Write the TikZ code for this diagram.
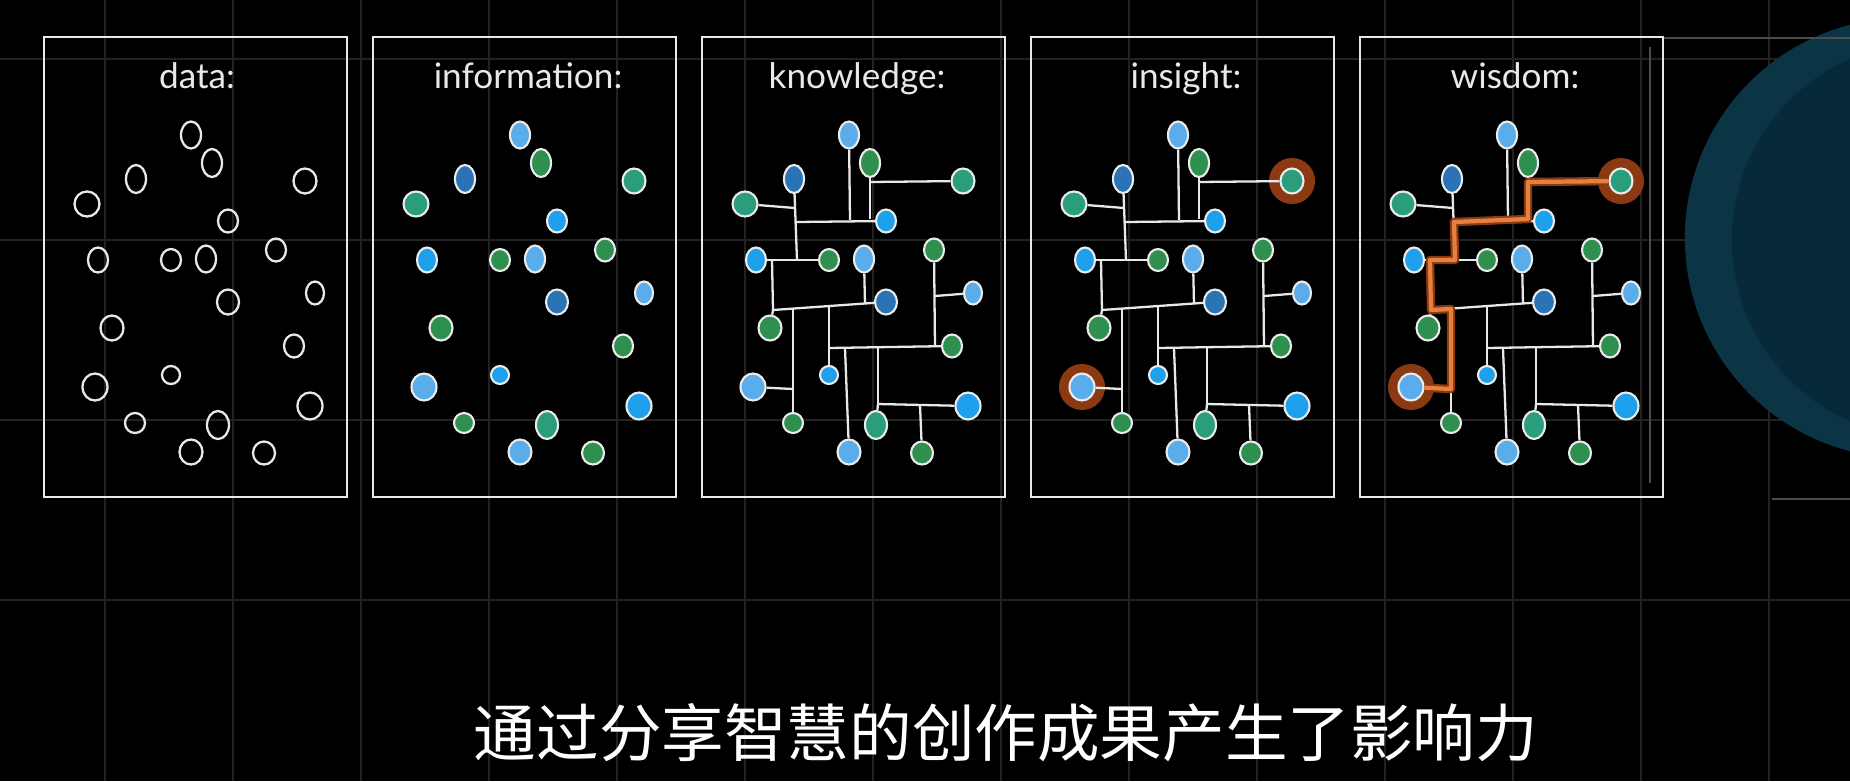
\documentclass[tikz,border=0pt]{standalone}
\usepackage{fontspec}
\newfontfamily\handfont{Lato}
\newfontfamily\cjkfont{Noto Sans CJK SC}
\usetikzlibrary{shapes.geometric,backgrounds}

\definecolor{dotlight}{HTML}{5AADEA}
\definecolor{dotbright}{HTML}{1FA0EC}
\definecolor{dotdeep}{HTML}{2A74B5}
\definecolor{dotgreen}{HTML}{2F8F4E}
\definecolor{dotteal}{HTML}{2A9D7C}
\definecolor{gridgray}{HTML}{222222}
\definecolor{chalk}{HTML}{E8E8E8}
\definecolor{rust}{HTML}{8A3912}
\definecolor{amber}{HTML}{E6803E}
\definecolor{discouter}{HTML}{0B3545}
\definecolor{discinner}{HTML}{072A3A}

% dot layout, relative to the top left corner of a panel: name/x/y/width/height/colour
\newcommand{\dotlist}{%
1/147/98/20/27/dotlight,%
2/168/126/20/28/dotgreen,%
3/92/142/20/28/dotdeep,%
4/261/144/23/25/dotteal,%
5/43/167/25/25/dotteal,%
6/184/184/20/23/dotbright,%
7/232/213/20/23/dotgreen,%
8/54/223/20/25/dotbright,%
9/127/223/20/22/dotgreen,%
10/162/222/20/27/dotlight,%
11/271/256/18/23/dotlight,%
12/184/265/22/25/dotdeep,%
13/68/291/23/25/dotgreen,%
14/250/309/20/23/dotgreen,%
15/127/338/18/18/dotbright,%
16/51/350/25/27/dotlight,%
17/266/369/25/27/dotbright,%
18/91/386/20/20/dotgreen,%
19/174/388/22/28/dotteal,%
20/147/415/23/25/dotlight,%
21/220/416/22/23/dotgreen}

% junctions of the knowledge tree
\newcommand{\joinlist}{%
A/93/171, B/94/185, C/148/183, D/168/182, E/168/145, F/70/223, G/95/223,%
H/71/273, I/91/272, J/127/269, K/163/267, L/91/352, M/127/311, N/143/311,%
O/176/311, P/233/310, Q/233/259, R/176/367, S/218/368}

% links of the knowledge tree
\newcommand{\linklist}{%
3/G, 5/A, B/6, 1/C, 2/D, E/4, 8/9, F/H, H/12, 13/H, 10/K, I/18, 16/L,%
J/15, M/14, 7/P, Q/11, N/20, O/R, R/17, 19/R, S/21}

\begin{document}
\begin{tikzpicture}[x=0.01cm, y=-0.01cm]
    % Styles
    \tikzstyle{gridline} = [draw=gridgray, line width=0.5pt]
    \tikzstyle{panelframe} = [draw=chalk, line width=0.7pt]
    \tikzstyle{paneltitle} = [text=chalk, anchor=base, font=\handfont\fontsize{10}{12}\selectfont]
    \tikzstyle{datadot} = [ellipse, draw=chalk, line width=0.65pt, inner sep=0pt]
    \tikzstyle{infodot} = [ellipse, draw=white!92!black, line width=0.6pt, inner sep=0pt]
    \tikzstyle{linkline} = [draw=chalk, line width=0.65pt]
    \tikzstyle{haloring} = [fill=rust]
    \tikzstyle{pathshadow} = [draw=rust, line width=2.4pt, line join=round]
    \tikzstyle{pathglow} = [draw=amber, line width=1.2pt, line join=round]
    \tikzstyle{ghostline} = [draw=white!30!black, line width=0.6pt]

    \useasboundingbox (0,0) rectangle (1850,781);

    % === BACKGROUND: black board + grid ===
    \begin{scope}[on background layer]
        \fill[black] (0,0) rectangle (1850,781);
        \foreach \gx in {105,233,...,1769}
            \draw[gridline] (\gx,0) -- (\gx,781);
        \foreach \gy in {59,240,420,600}
            \draw[gridline] (0,\gy) -- (1850,\gy);
    \end{scope}

    % === RIGHT EDGE: next slide peeking in ===
    \fill[discouter] (1905,238) circle (2.2cm);
    \fill[discinner] (1930,240) circle (1.98cm);
    \draw[ghostline] (1663,38) -- (1850,38);
    \draw[ghostline] (1772,499) -- (1850,499);
    \draw[ghostline] (1650,47) -- (1650,483);

    % === PANEL 1: data ===
    \begin{scope}[shift={(44,37)}]
        \draw[panelframe] (0,0) rectangle (303,460);
        \node[paneltitle] (data-title) at (153,51) {data:};
        \foreach \n/\dx/\dy/\w/\h/\c in \dotlist
            \node[datadot, minimum width=\w*0.01cm, minimum height=\h*0.01cm] (data-\n) at (\dx,\dy) {};
    \end{scope}

    % === PANELS 2-5: coloured dots ===
    \foreach \pn/\px/\ttl in {info/373/information, know/702/knowledge, ins/1031/insight, wis/1360/wisdom}{
        \begin{scope}[shift={(\px,37)}]
            \draw[panelframe] (0,0) rectangle (303,460);
            \node[paneltitle] (\pn-title) at (155,51) {\ttl:};
            \foreach \n/\dx/\dy/\w/\h/\c in \dotlist
                \node[infodot, fill=\c, minimum width=\w*0.01cm, minimum height=\h*0.01cm] (\pn-\n) at (\dx,\dy) {};
        \end{scope}
    }

    % === LINKS: knowledge, insight, wisdom ===
    \foreach \pn/\px in {know/702, ins/1031, wis/1360}{
        \begin{scope}[shift={(\px,37)}]
            \foreach \j/\jx/\jy in \joinlist
                \coordinate (\pn-\j) at (\jx,\jy);
        \end{scope}
        \foreach \a/\b in \linklist
            \draw[linkline] (\pn-\a) -- (\pn-\b);
    }

    % === HIGHLIGHTS: the two ends ===
    \begin{scope}[on background layer]
        \foreach \pn in {ins, wis}{
            \fill[haloring] (\pn-4) circle (0.23cm);
            \fill[haloring] (\pn-16) circle (0.23cm);
        }
    \end{scope}

    % === WISDOM PATH ===
    \draw[pathshadow] (wis-16) -- (wis-L) -- (wis-I) -- (wis-H) -- (wis-F) -- (wis-G) -- (wis-B) -- (wis-D) -- (wis-E) -- (wis-4);
    \draw[pathglow] (wis-16) -- (wis-L) -- (wis-I) -- (wis-H) -- (wis-F) -- (wis-G) -- (wis-B) -- (wis-D) -- (wis-E) -- (wis-4);

    % === Caption ===
    \node[text=white, font=\cjkfont\fontsize{17.8}{20}\selectfont] (caption) at (1006,733) {通过分享智慧的创作成果产生了影响力};
\end{tikzpicture}
\end{document}
